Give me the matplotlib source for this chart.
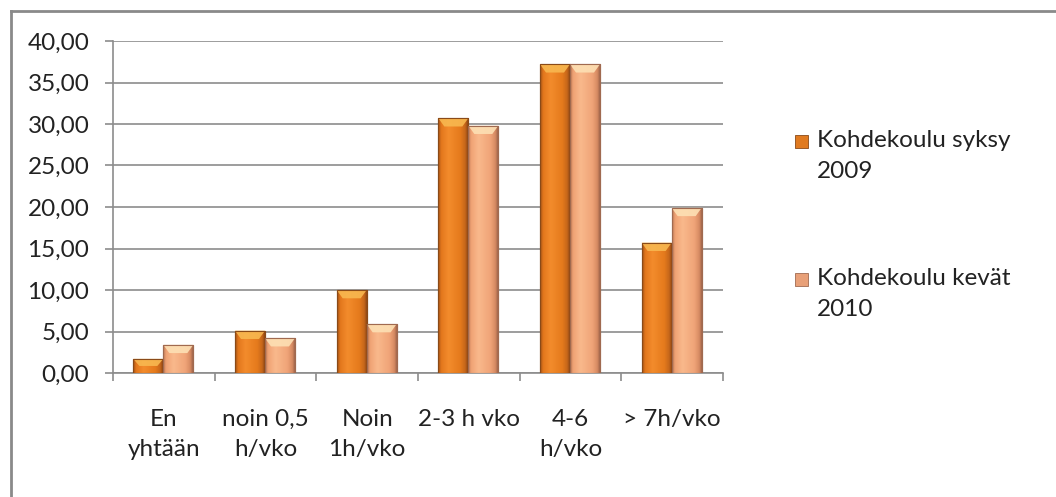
import numpy as np
import matplotlib
matplotlib.use('Agg')
import matplotlib.pyplot as plt
from matplotlib.colors import LinearSegmentedColormap
from matplotlib.patches import Polygon, Rectangle
from matplotlib.lines import Line2D
from matplotlib.ticker import FuncFormatter, MultipleLocator

# Liikunnan määrä viikossa, osuudet (%)
categories = ["En\nyhtään", "noin 0,5\nh/vko", "Noin\n1h/vko", "2-3 h vko", "4-6\nh/vko", "> 7h/vko"]
syksy_2009 = [1.7, 5.1, 10.0, 30.7, 37.2, 15.7]
kevat_2010 = [3.4, 4.2, 5.9, 29.8, 37.2, 19.9]
series_labels = ["Kohdekoulu syksy\n2009", "Kohdekoulu kevät\n2010"]

plt.rcParams['font.family'] = ['Lato', 'DejaVu Sans']
text_color = '#222222'
grid_color = '#8c8c8c'
fs = 17.5

W, H = 1056, 497
fig = plt.figure(figsize=(W / 100, H / 100), dpi=100)
ax = fig.add_axes([113 / W, 1 - 373 / H, (723 - 113) / W, (373 - 41) / H])

# colour ramps across the bar width give the bevelled look
cmap_syksy = LinearSegmentedColormap.from_list('syksy', [
    (0.0, '#9c5014'), (0.1, '#e2761c'), (0.35, '#f38c2c'),
    (0.75, '#e57a1c'), (0.92, '#c4651a'), (1.0, '#8a4614')])
cmap_kevat = LinearSegmentedColormap.from_list('kevat', [
    (0.0, '#b87656'), (0.1, '#f0a274'), (0.35, '#f9b98c'),
    (0.75, '#f0a478'), (0.92, '#d68a62'), (1.0, '#9e644a')])
top_syksy = '#f8b850'
top_kevat = '#fde0b4'

x = np.arange(len(categories))
width = 0.295

bars1 = ax.bar(x - width / 2 - 0.005, syksy_2009, width, color='#e8801f',
               edgecolor='#8a4a18', linewidth=0.8, zorder=3)
bars2 = ax.bar(x + width / 2 - 0.005, kevat_2010, width, color='#f4ac7c',
               edgecolor='#a06a50', linewidth=0.8, zorder=3)


def shade(bars, cmap, top_color):
    grad = np.linspace(0, 1, 128).reshape(1, -1)
    for rect in bars:
        x0, y0 = rect.get_x(), rect.get_y()
        w, h = rect.get_width(), rect.get_height()
        im = ax.imshow(grad, cmap=cmap, extent=[x0, x0 + w, y0, y0 + h],
                       aspect='auto', interpolation='bicubic', zorder=3.1)
        im.set_clip_path(rect)
        # light bevel on the top edge
        dy = min(1.0, h * 0.5)
        dx = w * 0.2
        top = y0 + h
        ax.add_patch(Polygon([(x0, top), (x0 + w, top), (x0 + w - dx, top - dy),
                              (x0 + dx, top - dy)], closed=True,
                             facecolor=top_color, edgecolor='none', alpha=0.9, zorder=3.2))
        ax.add_patch(Rectangle((x0, y0), w, h, fill=False,
                               edgecolor=rect.get_edgecolor(), linewidth=0.8, zorder=3.3))


shade(bars1, cmap_syksy, top_syksy)
shade(bars2, cmap_kevat, top_kevat)

ax.set_xlim(-0.5, len(categories) - 0.5)
ax.set_ylim(0, 40)

# axes and grid
ax.yaxis.set_major_locator(MultipleLocator(5))
ax.yaxis.set_major_formatter(FuncFormatter(lambda v, p: f'{v:.2f}'.replace('.', ',')))
ax.grid(axis='y', color=grid_color, linewidth=1.2, zorder=0)
ax.set_axisbelow(True)
for s in ['top', 'right']:
    ax.spines[s].set_visible(False)
for s in ['left', 'bottom']:
    ax.spines[s].set_color(grid_color)
    ax.spines[s].set_linewidth(1.2)

ax.set_xticks(x)
ax.set_xticklabels(categories, fontsize=fs, color=text_color, linespacing=1.5, va='top')
ax.tick_params(axis='x', which='major', length=0, pad=26)
ax.set_xticks(np.arange(-0.5, len(categories), 1.0), minor=True)
ax.tick_params(axis='x', which='minor', length=6, color=grid_color, width=1.2, direction='out')
ax.tick_params(axis='y', length=6, color=grid_color, width=1.2, pad=11,
               labelsize=fs, labelcolor=text_color)

# legend drawn by hand so the swatch sits beside the first text line
for (label, c, ec), yc in zip([(series_labels[0], '#e07a20', '#8a4a18'),
                               (series_labels[1], '#e8a078', '#a06a50')], [141, 279]):
    fig.add_artist(Rectangle((795 / W, 1 - (yc + 6.5) / H), 13 / W, 13 / H,
                             transform=fig.transFigure, facecolor=c, edgecolor=ec, linewidth=0.6))
    fig.text(817 / W, 1 - (yc - 11) / H, label, fontsize=fs, color=text_color,
             va='top', ha='left', linespacing=1.6)

# outer chart frame
fig.add_artist(Line2D([11 / W, 11 / W], [0, 1 - 11 / H], transform=fig.transFigure,
                      color='#8a8a8a', linewidth=2))
fig.add_artist(Line2D([11 / W, 1], [1 - 11 / H, 1 - 11 / H], transform=fig.transFigure,
                      color='#8a8a8a', linewidth=2))

fig.savefig('out.png', dpi=100)
